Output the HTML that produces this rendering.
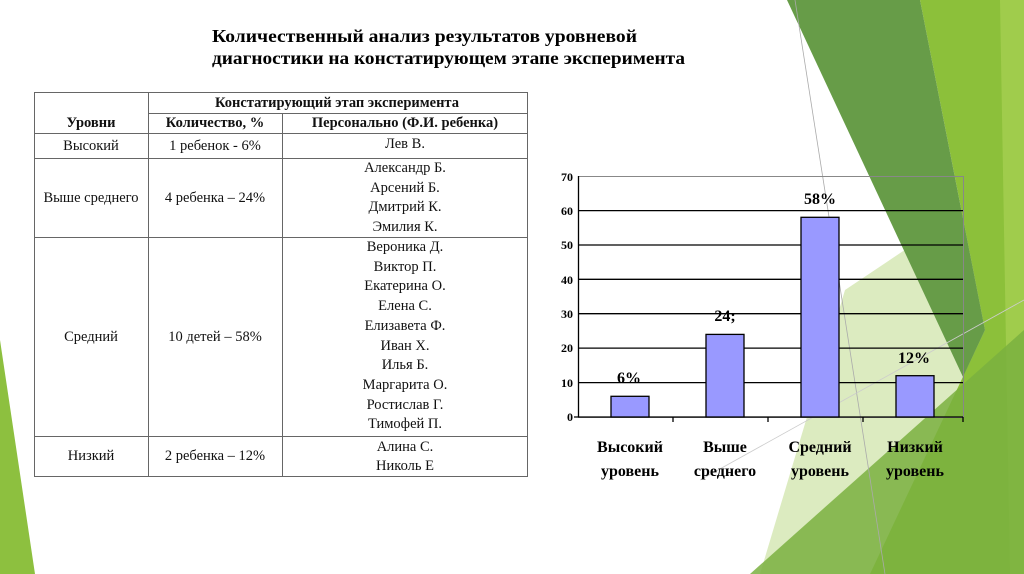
<!DOCTYPE html>
<html><head><meta charset="utf-8"><style>
html,body{margin:0;padding:0;background:#fff;}
body{width:1024px;height:574px;position:relative;overflow:hidden;font-family:"Liberation Serif",serif;}
svg{position:absolute;left:0;top:0;}
</style></head><body>
<svg width="1024" height="574" viewBox="0 0 1024 574" font-family="Liberation Serif, serif">
<polygon points="0,340 35,574 0,574" fill="#8dc03f"/>
<polygon points="845,290 1024,170 1024,574 760,574" fill="#dcebc0"/>
<polygon points="920,0 1024,0 1024,574 870,574 985,330" fill="#8cc03a"/>
<polygon points="1000,0 1024,0 1024,574 1010,574" fill="#a0cc4c"/>
<polygon points="787,0 920,0 985,330 963,377" fill="#679c48"/>
<polygon points="750,574 1024,330 1024,574" fill="#7ab040" opacity="0.85"/>
<line x1="795" y1="0" x2="885" y2="574" stroke="#aaa" stroke-width="0.8"/>
<line x1="700" y1="480" x2="1024" y2="300" stroke="#ccc" stroke-width="0.8"/>

<text x="212" y="42" font-size="18" font-weight="bold" textLength="425" lengthAdjust="spacingAndGlyphs">Количественный анализ результатов уровневой</text>
<text x="212" y="64" font-size="18" font-weight="bold" textLength="473" lengthAdjust="spacingAndGlyphs">диагностики на констатирующем этапе эксперимента</text>

<g stroke="#666" stroke-width="1" fill="none">
<rect x="34.5" y="92.5" width="493" height="384"/>
<line x1="148.5" y1="92" x2="148.5" y2="477"/>
<line x1="282.5" y1="113" x2="282.5" y2="477"/>
<line x1="148" y1="113.5" x2="527" y2="113.5"/>
<line x1="34" y1="133.5" x2="527" y2="133.5"/>
<line x1="34" y1="158.5" x2="527" y2="158.5"/>
<line x1="34" y1="237.5" x2="527" y2="237.5"/>
<line x1="34" y1="436.5" x2="527" y2="436.5"/>
</g>
<g font-size="14.5" text-anchor="middle" fill="#111">
<text x="337" y="107" font-weight="bold">Констатирующий этап эксперимента</text>
<text x="91" y="127" font-weight="bold">Уровни</text>
<text x="215" y="127" font-weight="bold">Количество, %</text>
<text x="405" y="127" font-weight="bold">Персонально (Ф.И. ребенка)</text>
<text x="91" y="150">Высокий</text>
<text x="215" y="150">1 ребенок - 6%</text>
<text x="405" y="148">Лев В.</text>
<text x="91" y="202">Выше среднего</text>
<text x="215" y="202">4 ребенка – 24%</text>
<text x="405" y="172">Александр Б.</text>
<text x="405" y="192">Арсений Б.</text>
<text x="405" y="211">Дмитрий К.</text>
<text x="405" y="231">Эмилия К.</text>
<text x="91" y="341">Средний</text>
<text x="215" y="341">10 детей – 58%</text>
<text x="405" y="251">Вероника Д.</text>
<text x="405" y="271">Виктор П.</text>
<text x="405" y="290">Екатерина О.</text>
<text x="405" y="310">Елена С.</text>
<text x="405" y="330">Елизавета Ф.</text>
<text x="405" y="350">Иван Х.</text>
<text x="405" y="369">Илья Б.</text>
<text x="405" y="389">Маргарита О.</text>
<text x="405" y="409">Ростислав Г.</text>
<text x="405" y="428">Тимофей П.</text>
<text x="91" y="460">Низкий</text>
<text x="215" y="460">2 ребенка – 12%</text>
<text x="405" y="451">Алина С.</text>
<text x="405" y="470">Николь Е</text>
</g>

<rect x="578.5" y="176.5" width="385" height="241" fill="none" stroke="#888" stroke-width="1"/>
<g stroke="#000" stroke-width="1.3">
<line x1="578" y1="210.6" x2="963" y2="210.6"/>
<line x1="578" y1="245" x2="963" y2="245"/>
<line x1="578" y1="279.3" x2="963" y2="279.3"/>
<line x1="578" y1="313.7" x2="963" y2="313.7"/>
<line x1="578" y1="348.1" x2="963" y2="348.1"/>
<line x1="578" y1="382.6" x2="963" y2="382.6"/>
<line x1="578.5" y1="176" x2="578.5" y2="417"/>
<line x1="574" y1="417" x2="963" y2="417"/>
<line x1="673" y1="417" x2="673" y2="422"/>
<line x1="768" y1="417" x2="768" y2="422"/>
<line x1="863" y1="417" x2="863" y2="422"/>
<line x1="963" y1="417" x2="963" y2="422"/>
</g>
<g fill="#9999ff" stroke="#000" stroke-width="1.3">
<rect x="611" y="396.3" width="38" height="20.7"/>
<rect x="706" y="334.4" width="38" height="82.6"/>
<rect x="801" y="217.3" width="38" height="199.7"/>
<rect x="896" y="375.7" width="38" height="41.3"/>
</g>
<g font-size="12" font-weight="bold" text-anchor="end">
<text x="573" y="181">70</text><text x="573" y="215">60</text><text x="573" y="249">50</text>
<text x="573" y="284">40</text><text x="573" y="318">30</text><text x="573" y="352">20</text>
<text x="573" y="387">10</text><text x="573" y="421">0</text>
</g>
<g font-size="16" font-weight="bold" text-anchor="middle">
<text x="629" y="383">6%</text>
<text x="725" y="321">24;</text>
<text x="820" y="204">58%</text>
<text x="914" y="363">12%</text>
<text x="630" y="452">Высокий</text><text x="630" y="476">уровень</text>
<text x="725" y="452">Выше</text><text x="725" y="476">среднего</text>
<text x="820" y="452">Средний</text><text x="820" y="476">уровень</text>
<text x="915" y="452">Низкий</text><text x="915" y="476">уровень</text>
</g>
</svg>
</body></html>
